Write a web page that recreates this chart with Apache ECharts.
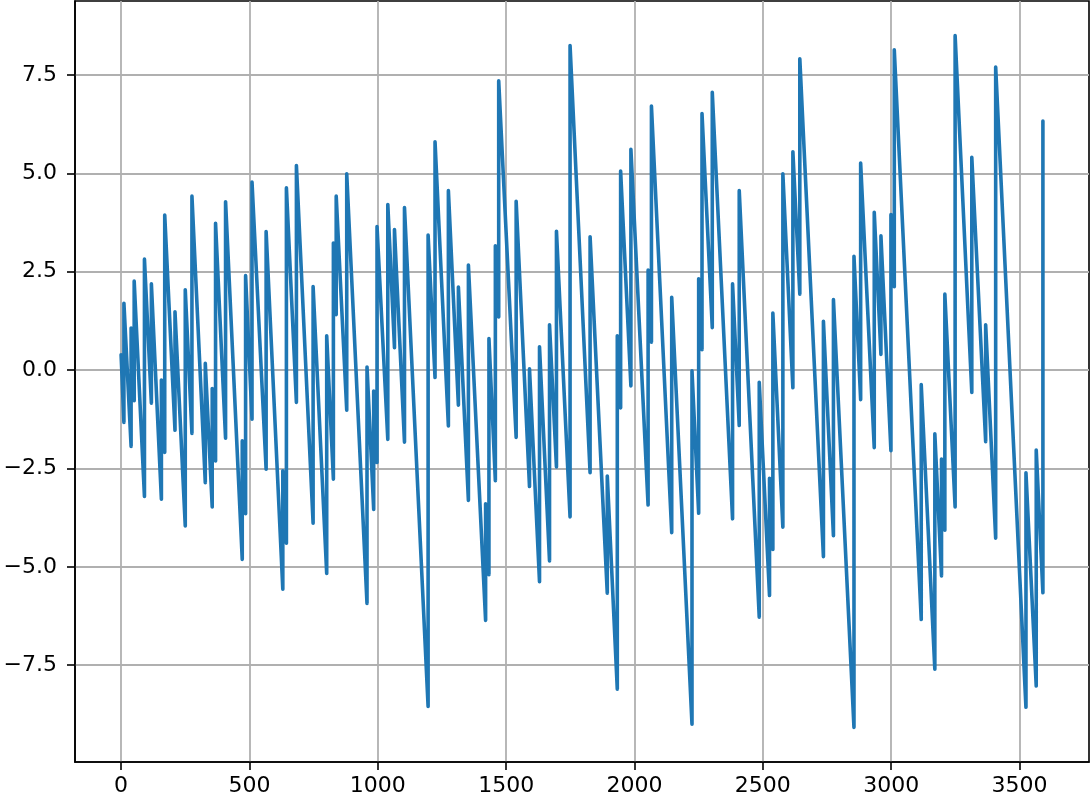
<!DOCTYPE html>
<html><head><meta charset="utf-8">
<script src="https://cdn.jsdelivr.net/npm/echarts@6/dist/echarts.min.js"></script>
<style>html,body{margin:0;padding:0;background:#fff}#c{width:1091px;height:799px}</style>
</head><body><div id="c"></div>
<script>
// x position of each vertical jump; value just before the jump (low) and just after (high)
const xs = [0, 11, 39, 51, 91, 118, 157, 170, 210, 250, 276, 328, 355, 368, 407, 472, 485, 510, 565, 630,
  644, 683, 748, 801, 827, 838, 879, 958, 984, 997, 1039, 1065, 1104, 1196, 1223, 1275, 1314, 1353, 1420, 1433,
  1458, 1471, 1539, 1591, 1630, 1669, 1696, 1749, 1827, 1894, 1933, 1946, 1986, 2053, 2066, 2145, 2224, 2250, 2263, 2303,
  2382, 2408, 2486, 2526, 2539, 2578, 2617, 2644, 2736, 2775, 2855, 2881, 2934, 2960, 2999, 3012, 3117, 3170, 3196, 3209,
  3249, 3314, 3368, 3407, 3525, 3565, 3591];
const lows = [0.39, -1.33, -1.94, -0.78, -3.21, -0.84, -3.28, -2.09, -1.53, -3.96, -1.61, -2.86, -3.48, -2.31, -1.73, -4.81, -3.65, -1.25, -2.52, -5.57,
  -4.40, -0.82, -3.89, -5.17, -2.77, 1.41, -1.02, -5.93, -3.54, -2.35, -1.76, 0.57, -1.83, -8.55, -0.19, -1.42, -0.89, -3.31, -6.36, -5.20,
  -2.81, 1.35, -1.71, -2.96, -5.38, -4.85, -2.46, -3.73, -2.61, -5.67, -8.11, -0.96, -0.40, -3.43, 0.71, -4.13, -9.00, -3.64, 0.52, 1.08,
  -3.78, -1.41, -6.28, -5.73, -4.56, -3.99, -0.45, 1.93, -4.74, -4.21, -9.08, -0.75, -1.97, 0.40, -2.05, 2.12, -6.34, -7.60, -5.23, -4.07,
  -3.48, -0.57, -1.82, -4.27, -8.57, -8.03, -5.66];
const highs = [0.39, 1.70, 1.07, 2.26, 2.82, 2.19, -0.25, 3.94, 1.48, 2.04, 4.42, 0.17, -0.47, 3.73, 4.28, -1.80, 2.40, 4.78, 3.52, -2.56,
  4.63, 5.20, 2.12, 0.87, 3.23, 4.42, 4.99, 0.08, -0.53, 3.65, 4.21, 3.57, 4.13, 3.43, 5.80, 4.56, 2.11, 2.67, -3.40, 0.80,
  3.16, 7.35, 4.29, 0.03, 0.59, 1.15, 3.53, 8.25, 3.39, -2.69, 0.87, 5.06, 5.61, 2.54, 6.71, 1.85, -0.02, 2.32, 6.52, 7.06,
  2.19, 4.56, -0.31, -2.75, 1.45, 4.99, 5.55, 7.91, 1.24, 1.79, 2.89, 5.26, 4.01, 3.41, 3.95, 8.14, -0.37, -1.62, -2.26, 1.93,
  8.50, 5.41, 1.15, 7.70, -2.61, -2.03, 6.33];
const xTicks = [0, 500, 1000, 1500, 2000, 2500, 3000, 3500];
const yTicks = [-7.5, -5, -2.5, 0, 2.5, 5, 7.5];
const xRange = [-179.55, 3770.55];
const yRange = [-9.96, 9.38];

const data = [];
for (let i = 0; i < xs.length; i++) {
  data.push([xs[i], lows[i]]);
  data.push([xs[i], highs[i]]);
}

const font = 'DejaVu Sans';
const chart = echarts.init(document.getElementById('c'), null, {renderer: 'canvas'});
chart.setOption({
  animation: false,
  backgroundColor: '#fff',
  grid: {left: 75, right: 2, top: 1, bottom: 37, show: true, borderColor: '#000', borderWidth: 1.6, backgroundColor: 'transparent'},
  xAxis: {
    type: 'value', min: xRange[0], max: xRange[1],
    axisLine: {show: true, onZero: false, lineStyle: {color: '#000', width: 1.6}},
    axisTick: {show: true, inside: false, length: 8, lineStyle: {color: '#000', width: 1.6}, customValues: xTicks},
    axisLabel: {show: true, margin: 13, color: '#000', fontFamily: font, fontSize: 22, customValues: xTicks,
      formatter: v => String(Math.round(v))},
    splitLine: {show: true, lineStyle: {color: '#b0b0b0', width: 1.8}}
  },
  yAxis: {
    type: 'value', min: yRange[0], max: yRange[1],
    axisLine: {show: true, onZero: false, lineStyle: {color: '#000', width: 1.6}},
    axisTick: {show: true, inside: false, length: 8, lineStyle: {color: '#000', width: 1.6}, customValues: yTicks},
    axisLabel: {show: true, margin: 18, color: '#000', fontFamily: font, fontSize: 22, customValues: yTicks,
      formatter: v => v.toFixed(1).replace('-', '\u2212')},
    splitLine: {show: true, lineStyle: {color: '#b0b0b0', width: 1.8}}
  },
  series: [{
    type: 'line', data: data, showSymbol: false, symbol: 'none',
    lineStyle: {color: '#1f77b4', width: 3.6, join: 'round', cap: 'round'},
    z: 3
  }]
});
</script>
</body></html>
